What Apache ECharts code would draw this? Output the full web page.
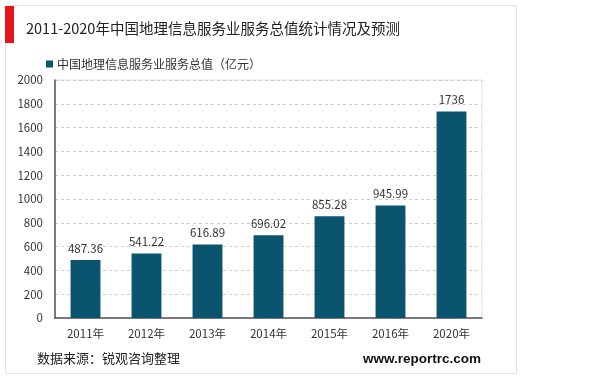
<!DOCTYPE html>
<html><head><meta charset="utf-8">
<script src="https://cdn.jsdelivr.net/npm/echarts@6/dist/echarts.min.js"></script>
<style>html,body{margin:0;padding:0;background:#fff}#c{width:600px;height:379px}</style>
</head><body><div id="c"></div>
<script>
const categories = ['2011年','2012年','2013年','2014年','2015年','2016年','2020年'];
const values = [487.36, 541.22, 616.89, 696.02, 855.28, 945.99, 1736];
const seriesName = '中国地理信息服务业服务总值（亿元）';
const titleText = '2011-2020年中国地理信息服务业服务总值统计情况及预测';
const sourceText = '数据来源：锐观咨询整理';
const siteText = 'www.reportrc.com';
const font = '"Noto Sans CJK SC", "Liberation Sans", Arial, sans-serif';

const chart = echarts.init(document.getElementById('c'), null, {renderer: 'canvas'});
chart.setOption({
  backgroundColor: '#fff',
  animation: false,
  textStyle: {fontFamily: font},
  title: {
    text: titleText, left: 21, top: 16,
    textStyle: {fontSize: 14.5, fontWeight: 'normal', color: '#222', fontFamily: font}
  },
  legend: {
    data: [seriesName], left: 41, top: 53, icon: 'rect', itemWidth: 7, itemHeight: 7, itemGap: 4,
    textStyle: {fontSize: 12, color: '#333', fontFamily: font, padding: [0,0,0,-1]}
  },
  grid: {left: 55, right: 118, top: 80, bottom: 61, show: true, borderColor: '#ddd', borderWidth: 1},
  xAxis: {
    type: 'category', data: categories,
    axisLine: {lineStyle: {color: '#555', width: 1.5}},
    axisTick: {show: false},
    axisLabel: {fontSize: 11.5, color: '#333', margin: 10, fontFamily: font}
  },
  yAxis: {
    type: 'value', min: 0, max: 2000, interval: 200,
    axisLine: {show: true, lineStyle: {color: '#555', width: 1.5}},
    axisTick: {show: false},
    splitLine: {lineStyle: {color: '#ccc', type: [3, 3]}},
    axisLabel: {fontSize: 11.5, color: '#333', margin: 12, fontFamily: font, formatter: v => String(v)}
  },
  series: [{
    name: seriesName, type: 'bar', data: values, barWidth: '49%',
    itemStyle: {color: '#0b5470'},
    label: {show: true, position: 'top', fontSize: 11.5, color: '#333', distance: 6, fontFamily: font}
  }],
  graphic: [
    {type: 'rect', shape: {x: 5.5, y: 5.5, width: 511, height: 368}, style: {fill: 'none', stroke: '#e2e2e2', lineWidth: 1}, z: -1},
    {type: 'rect', shape: {x: 5, y: 6, width: 9, height: 37}, style: {fill: '#e8141b'}},
    {type: 'text', left: 37, top: 352, style: {text: sourceText, font: '13px ' + font, fill: '#222'}},
    {type: 'text', left: 363, top: 352, style: {text: siteText, font: 'bold 13.5px "Liberation Sans", Arial, sans-serif', fill: '#111'}}
  ]
});
</script></body></html>
